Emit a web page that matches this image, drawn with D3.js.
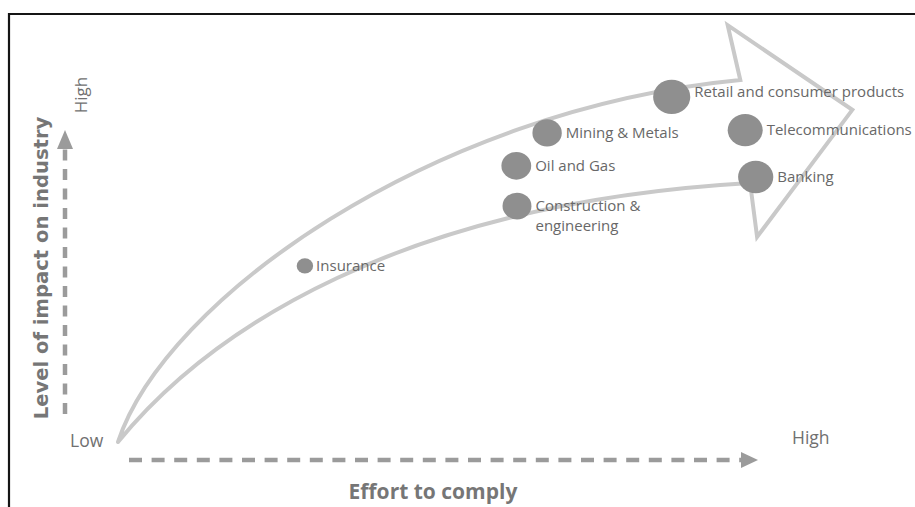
<!DOCTYPE html>
<html>
<head>
<meta charset="utf-8">
<script src="https://cdn.jsdelivr.net/npm/d3@7/dist/d3.min.js"></script>
<style>
  html, body { margin: 0; padding: 0; background: #fff; }
  svg { display: block; }
</style>
</head>
<body>
<svg id="chart" width="915" height="507"></svg>
<script>
// Industries placed by effort to comply (x) and level of impact (y), 0–100 scale
const industries = ["Insurance", "Oil and Gas", "Mining & Metals", "Construction & engineering",
                    "Retail and consumer products", "Telecommunications", "Banking"];
const effort = [26.7, 56.9, 61.3, 57.0, 79.1, 89.6, 91.1];
const impact = [50.3, 78.9, 88.3, 67.4, 98.6, 89.1, 75.7];
const bubbleSize = [7.6, 13.8, 13.6, 13.4, 17.2, 16.2, 16.3];
const labelLines = [["Insurance"], ["Oil and Gas"], ["Mining & Metals"], ["Construction &", "engineering"],
                    ["Retail and consumer products"], ["Telecommunications"], ["Banking"]];

const xTickLabels = ["Low", "High"];
const yTickLabels = ["Low", "High"];
const xTitle = "Effort to comply";
const yTitle = "Level of impact on industry";

// Outline of the big trend arrow, in the same effort/impact units
const arrowUpper = [[0, 0], [6.7, 40.6], [44.6, 94.9], [88.9, 103.4]];
const arrowHead = [[87.1, 119.1], [104.9, 94.9], [91.3, 58.6], [90.3, 74.0]];
const arrowLower = [[90.3, 74.0], [40.3, 68.3], [13.1, 32.0], [0, 0]];

const svg = d3.select("#chart");
const x = d3.scaleLinear().domain([0, 100]).range([118, 818]);
const y = d3.scaleLinear().domain([0, 100]).range([442, 92]);

// Frame
svg.append("line").attr("x1", 8).attr("y1", 14).attr("x2", 915).attr("y2", 14)
  .attr("stroke", "#151515").attr("stroke-width", 2.2);
svg.append("line").attr("x1", 9).attr("y1", 13).attr("x2", 9).attr("y2", 507)
  .attr("stroke", "#151515").attr("stroke-width", 2.2);

// Trend arrow
const p = d3.path();
const P = d => [x(d[0]), y(d[1])];
p.moveTo(...P(arrowUpper[0]));
p.bezierCurveTo(...P(arrowUpper[1]), ...P(arrowUpper[2]), ...P(arrowUpper[3]));
arrowHead.forEach(d => p.lineTo(...P(d)));
p.bezierCurveTo(...P(arrowLower[1]), ...P(arrowLower[2]), ...P(arrowLower[3]));
svg.append("path").attr("d", p.toString())
  .attr("fill", "none").attr("stroke", "#c9c9c9").attr("stroke-width", 4)
  .attr("stroke-linejoin", "miter").attr("stroke-linecap", "round");

// Dashed axis arrows
const axisColor = "#9b9b9b";
const vx = 65;
svg.append("line").attr("x1", vx).attr("y1", 414).attr("x2", vx).attr("y2", 147)
  .attr("stroke", axisColor).attr("stroke-width", 4.5).attr("stroke-dasharray", "11,8.5");
svg.append("path").attr("d", d3.line()([[vx - 8, 149], [vx, 130], [vx + 8, 149]]) + "Z")
  .attr("fill", axisColor);
const hy = 460;
svg.append("line").attr("x1", 129).attr("y1", hy).attr("x2", 742).attr("y2", hy)
  .attr("stroke", axisColor).attr("stroke-width", 4.5).attr("stroke-dasharray", "13,9.6");
svg.append("path").attr("d", d3.line()([[741, hy - 8], [758, hy], [741, hy + 8]]) + "Z")
  .attr("fill", axisColor);

// Axis end labels
const tickFont = "'Open Sans', sans-serif";
svg.append("text").attr("x", 70).attr("y", 447).text(xTickLabels[0])
  .attr("font-family", tickFont).attr("font-size", 17.5).attr("fill", "#707070");
svg.append("text").attr("x", 792).attr("y", 444).text(xTickLabels[1])
  .attr("font-family", tickFont).attr("font-size", 17.5).attr("fill", "#707070");
svg.append("text").attr("transform", "translate(87,95) rotate(-90)").attr("text-anchor", "middle")
  .text(yTickLabels[1]).attr("font-family", tickFont).attr("font-size", 17).attr("fill", "#707070");

// Axis titles
svg.append("text").attr("x", 433).attr("y", 499).attr("text-anchor", "middle").text(xTitle)
  .attr("font-family", tickFont).attr("font-weight", "bold").attr("font-size", 21).attr("fill", "#767676");
svg.append("text").attr("transform", "translate(48,268) rotate(-90)").attr("text-anchor", "middle")
  .text(yTitle).attr("font-family", "'DejaVu Sans', sans-serif").attr("font-weight", "bold")
  .attr("font-size", 19.6).attr("fill", "#767676");

// Industry bubbles and labels
const labelShift = { "Retail and consumer products": -5 };
const rows = industries.map((name, i) => ({ name, ex: effort[i], im: impact[i], r: bubbleSize[i], lines: labelLines[i] }));
const labelX = d => x(d.ex) + d.r * 1.08 + (d.r < 10 ? 3 : 4);
const g = svg.append("g");
g.selectAll("ellipse").data(rows).join("ellipse")
  .attr("cx", d => x(d.ex)).attr("cy", d => y(d.im))
  .attr("rx", d => d.r * 1.08).attr("ry", d => d.r)
  .attr("fill", "#8f8f8f");
const lbl = g.selectAll("text.lbl").data(rows).join("text").attr("class", "lbl")
  .attr("y", d => y(d.im) + 5 + (labelShift[d.name] || 0))
  .attr("font-family", tickFont).attr("font-size", 15).attr("fill", "#686868");
lbl.selectAll("tspan").data(d => d.lines.map((t, k) => ({ t, k, x0: labelX(d) })))
  .join("tspan").attr("x", d => d.x0).attr("dy", d => d.k === 0 ? 0 : 20).text(d => d.t);
</script>
</body>
</html>
